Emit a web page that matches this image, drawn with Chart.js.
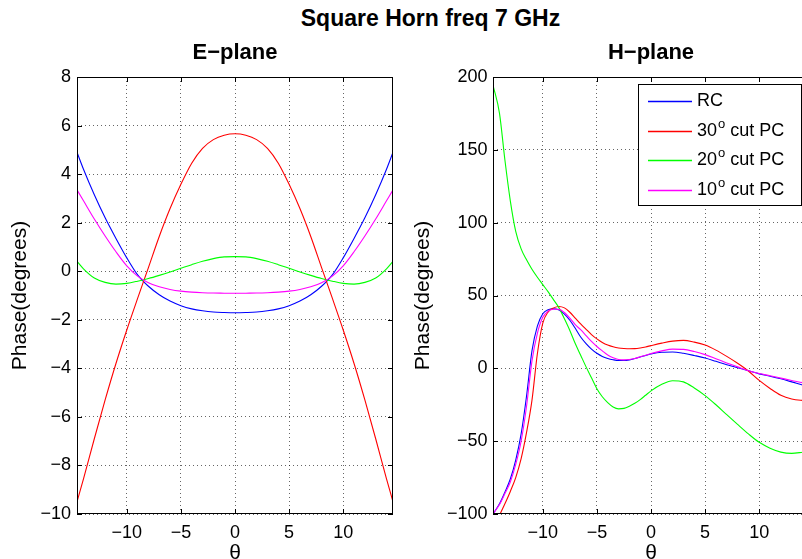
<!DOCTYPE html>
<html>
<head>
<meta charset="utf-8">
<title>Square Horn freq 7 GHz</title>
<script src="https://cdn.jsdelivr.net/npm/chart.js@4.4.0/dist/chart.umd.min.js"></script>
<style>
    html, body { margin: 0; padding: 0; background: #fff; overflow: hidden; }
    body { width: 802px; height: 559px; position: relative; }
    #suptitle {
        position: absolute; left: 0; top: 5px; width: 861px;
        text-align: center; font: bold 23px "Liberation Sans", Arial, sans-serif;
        line-height: 26px; color: #000;
    }
    #chartE { position: absolute; left: 0; top: 0; }
    #chartH { position: absolute; left: 400px; top: 0; }
</style>
</head>
<body>
<div id="suptitle">Square Horn freq 7 GHz</div>
<canvas id="chartE" width="400" height="575"></canvas>
<canvas id="chartH" width="416" height="575"></canvas>
<script>
(function () {
    const FONT = '"Liberation Sans", Arial, Helvetica, sans-serif';

    // tick labels
    const xTicks = [-10, -5, 0, 5, 10];
    const eYTicks = [-10, -8, -6, -4, -2, 0, 2, 4, 6, 8];
    const hYTicks = [-100, -50, 0, 50, 100, 150, 200];

    const seriesNames = ['RC', '30^o cut PC', '20^o cut PC', '10^o cut PC'];
    const seriesColors = ['#0000ff', '#ff0000', '#00ff00', '#ff00ff'];

    // E-plane
    const eTheta = [-14.6, -14, -13, -12, -11, -10, -9, -8, -7, -6, -5, -4, -3, -2, -1, 0,
        1, 2, 3, 4, 5, 6, 7, 8, 9, 10, 11, 12, 13, 14, 14.6];
    const eRC = [4.9, 4.2, 3.15, 2.2, 1.35, 0.55, -0.15, -0.62, -0.97, -1.23, -1.42, -1.55, -1.63, -1.68, -1.7, -1.71,
        -1.7, -1.68, -1.63, -1.55, -1.42, -1.23, -0.97, -0.62, -0.15, 0.55, 1.35, 2.2, 3.15, 4.2, 4.9];
    const eCut30 = [-9.5, -8.55, -6.9, -5.3, -3.8, -2.42, -1.12, 0.15, 1.43, 2.58, 3.58, 4.45, 5.06, 5.42, 5.6, 5.66,
        5.6, 5.42, 5.06, 4.45, 3.58, 2.58, 1.43, 0.15, -1.12, -2.42, -3.8, -5.3, -6.9, -8.55, -9.5];
    const eCut20 = [0.41, 0.1, -0.28, -0.46, -0.53, -0.5, -0.41, -0.3, -0.17, -0.03, 0.12, 0.27, 0.41, 0.52, 0.59, 0.6,
        0.59, 0.52, 0.41, 0.27, 0.12, -0.03, -0.17, -0.3, -0.41, -0.5, -0.53, -0.46, -0.28, 0.1, 0.41];
    const eCut10 = [3.35, 2.9, 2.15, 1.45, 0.8, 0.22, -0.2, -0.47, -0.64, -0.75, -0.82, -0.86, -0.885, -0.9, -0.905, -0.91,
        -0.905, -0.9, -0.885, -0.86, -0.82, -0.75, -0.64, -0.47, -0.2, 0.22, 0.8, 1.45, 2.15, 2.9, 3.35];

    // H-plane
    const hTheta = [-14.6, -14, -13.5, -13, -12.5, -12, -11.5, -11, -10.5, -10, -9.5, -9, -8.5, -8, -7.5, -7,
        -6.5, -6, -5.5, -5, -4.5, -4, -3.5, -3, -2.5, -2, -1.5, -1, -0.5, 0,
        1, 2, 3, 4, 5, 6, 7, 8, 9, 10, 11, 12, 13, 14, 14.6];
    const hRC = [-100, -93, -85, -76, -63, -45, -19, 12, 29, 37.5, 40.3, 40.9, 40, 37.2, 33, 27.5,
        21.5, 17, 13.2, 10.3, 8.2, 6.8, 5.9, 5.4, 5.4, 5.8, 6.7, 7.8, 8.8, 9.8,
        11, 11.2, 10.3, 8.8, 7.1, 4.8, 2.5, 0.4, -1.6, -3.8, -5.4, -7.2, -9.3, -11.5, -12.7];
    const hCut30 = [-112, -101, -93, -84.5, -75, -62, -44, -22, 10, 31, 38.8, 41.5, 42.5, 41.5, 38.5, 34.5,
        30.5, 26.8, 23.2, 20.2, 17.8, 16, 14.8, 14, 13.6, 13.4, 13.5, 14, 14.7, 15.6,
        17.3, 18.7, 19.2, 18, 16, 12.5, 8.2, 3.5, -1.8, -8.3, -13.8, -18.5, -21, -22, -22.3];
    const hCut20 = [194.5, 175, 143, 115, 94, 82, 74.5, 68, 62.5, 57.5, 52.5, 47, 41.5, 34, 26, 17,
        9, 1, -6.5, -14, -19.5, -23.5, -26.5, -27.8, -27.5, -26, -24, -21.5, -18.5, -15.5,
        -11, -8.5, -9.3, -13.5, -18.7, -25, -31.8, -38.5, -45, -50.8, -54.8, -57.5, -58.4, -57.6, -57];
    const hCut10 = [-100, -93.5, -86, -78, -66, -50, -26, 5, 24, 35, 39.3, 40.6, 40.5, 38.3, 34.5, 30,
        26.5, 22.5, 18.5, 15, 12, 9.2, 7.3, 6.1, 5.8, 6.1, 6.8, 7.9, 9, 10.2,
        12, 13.2, 13, 11.5, 9.4, 6.6, 3.7, 1, -1.7, -3.6, -5.1, -6.7, -8.3, -9.8, -10.8];

    const gridColor = 'rgba(0, 0, 0, 0.6)';

    function minusSign(v) {
        return v < 0 ? '\u2212' + Math.abs(v) : String(v);
    }

    function makeDatasets(xs, seriesList) {
        return seriesList.map(function (ys, i) {
            return {
                label: seriesNames[i].replace('^o', '\u00b0'),
                data: xs.map(function (x, k) { return { x: x, y: ys[k] }; }),
                borderColor: seriesColors[i],
                borderWidth: 1.1,
                pointRadius: 0,
                fill: false,
                cubicInterpolationMode: 'monotone',
                order: seriesList.length - i,
            };
        });
    }

    // axes box + inward tick marks, MATLAB style
    const boxTicks = {
        id: 'boxTicks',
        afterDraw(chart) {
            const { ctx, chartArea: a, scales } = chart;
            const len = 5;
            ctx.save();
            ctx.strokeStyle = '#000';
            ctx.lineWidth = 1;
            ctx.beginPath();
            scales.x.ticks.forEach(function (t) {
                const px = Math.round(scales.x.getPixelForValue(t.value)) + 0.5;
                ctx.moveTo(px, a.bottom); ctx.lineTo(px, a.bottom - len);
                ctx.moveTo(px, a.top); ctx.lineTo(px, a.top + len);
            });
            scales.y.ticks.forEach(function (t) {
                const py = Math.round(scales.y.getPixelForValue(t.value)) + 0.5;
                ctx.moveTo(a.left, py); ctx.lineTo(a.left + len, py);
                ctx.moveTo(a.right, py); ctx.lineTo(a.right - len, py);
            });
            ctx.stroke();
            ctx.strokeRect(Math.round(a.left) + 0.5, Math.round(a.top) + 0.5,
                Math.round(a.right - a.left) - 1, Math.round(a.bottom - a.top) - 1);
            ctx.restore();
        },
    };

    const panelTitle = {
        id: 'panelTitle',
        afterDraw(chart, args, opts) {
            const { ctx, chartArea: a } = chart;
            ctx.save();
            ctx.font = 'bold 22px ' + FONT;
            ctx.fillStyle = '#000';
            ctx.textAlign = 'center';
            ctx.textBaseline = 'middle';
            ctx.fillText(opts.text, (a.left + a.right) / 2, opts.y);
            ctx.restore();
        },
    };

    function drawTexLabel(ctx, text, x, y) {
        const parts = text.split('^');
        ctx.font = '18px ' + FONT;
        if (parts.length === 1) {
            ctx.fillText(text, x, y);
            return;
        }
        ctx.fillText(parts[0], x, y);
        x += ctx.measureText(parts[0]).width + 1;
        ctx.font = '13px ' + FONT;
        ctx.fillText(parts[1][0], x, y - 7);
        x += ctx.measureText(parts[1][0]).width;
        ctx.font = '18px ' + FONT;
        ctx.fillText(parts[1].slice(1), x, y);
    }

    const boxedLegend = {
        id: 'boxedLegend',
        afterDraw(chart, args, opts) {
            if (!opts.show) return;
            const { ctx, chartArea: a } = chart;
            const w = 163, h = 121;
            const left = Math.round(a.right - 8 - w), top = Math.round(a.top + 7);
            ctx.save();
            ctx.fillStyle = '#fff';
            ctx.fillRect(left, top, w, h);
            ctx.strokeStyle = '#000';
            ctx.lineWidth = 1;
            ctx.strokeRect(left + 0.5, top + 0.5, w, h);
            ctx.textAlign = 'left';
            ctx.textBaseline = 'middle';
            seriesNames.forEach(function (name, i) {
                const y = Math.round(top + 17 + i * 29.5) + 0.5;
                ctx.strokeStyle = seriesColors[i];
                ctx.lineWidth = 1.6;
                ctx.beginPath();
                ctx.moveTo(left + 10, y);
                ctx.lineTo(left + 54, y);
                ctx.stroke();
                ctx.fillStyle = '#000';
                drawTexLabel(ctx, name, left + 59, y);
            });
            ctx.restore();
        },
    };

    function panelConfig(p) {
        return {
            type: 'line',
            data: { datasets: makeDatasets(p.xs, p.series) },
            plugins: [boxTicks, panelTitle, boxedLegend],
            options: {
                responsive: false,
                animation: false,
                events: [],
                layout: { padding: { top: 77, right: 7, left: 0, bottom: 0 } },
                plugins: {
                    legend: { display: false },
                    tooltip: { enabled: false },
                    panelTitle: { text: p.title, y: 53 },
                    boxedLegend: { show: p.legend },
                },
                scales: {
                    x: {
                        type: 'linear',
                        min: -14.6,
                        max: 14.6,
                        afterBuildTicks: function (s) { s.ticks = xTicks.map(function (v) { return { value: v }; }); },
                        afterFit: function (s) { s.height = 61; },
                        grid: { color: gridColor, drawTicks: false, lineWidth: 1 },
                        border: { display: false, dash: [1, 3] },
                        ticks: {
                            color: '#000', padding: 8, maxRotation: 0, autoSkip: false,
                            font: { family: FONT, size: 18 }, callback: minusSign,
                        },
                        title: {
                            display: true, text: '\u03b8', color: '#000',
                            font: { family: FONT, size: 21 }, padding: { top: 0, bottom: 9 },
                        },
                    },
                    y: {
                        type: 'linear',
                        min: p.yTicks[0],
                        max: p.yTicks[p.yTicks.length - 1],
                        afterBuildTicks: function (s) { s.ticks = p.yTicks.map(function (v) { return { value: v }; }); },
                        afterFit: function (s) { s.width = p.yWidth; },
                        grid: { color: gridColor, drawTicks: false, lineWidth: 1 },
                        border: { display: false, dash: [1, 3] },
                        ticks: {
                            color: '#000', padding: p.tickPad, autoSkip: false,
                            font: { family: FONT, size: 18 }, callback: minusSign,
                        },
                        title: {
                            display: true, text: 'Phase(degrees)', color: '#000',
                            font: { family: FONT, size: 21 }, padding: { top: p.labelPad, bottom: 0 },
                        },
                    },
                },
            },
        };
    }

    new Chart(document.getElementById('chartE'), panelConfig({
        title: 'E\u2212plane',
        xs: eTheta,
        series: [eRC, eCut30, eCut20, eCut10],
        yTicks: eYTicks,
        yWidth: 77,
        tickPad: 6,
        labelPad: 7.5,
        legend: false,
    }));

    new Chart(document.getElementById('chartH'), panelConfig({
        title: 'H\u2212plane',
        xs: hTheta,
        series: [hRC, hCut30, hCut20, hCut10],
        yTicks: hYTicks,
        yWidth: 93,
        tickPad: 5.5,
        labelPad: 10.5,
        legend: true,
    }));
})();
</script>
</body>
</html>
